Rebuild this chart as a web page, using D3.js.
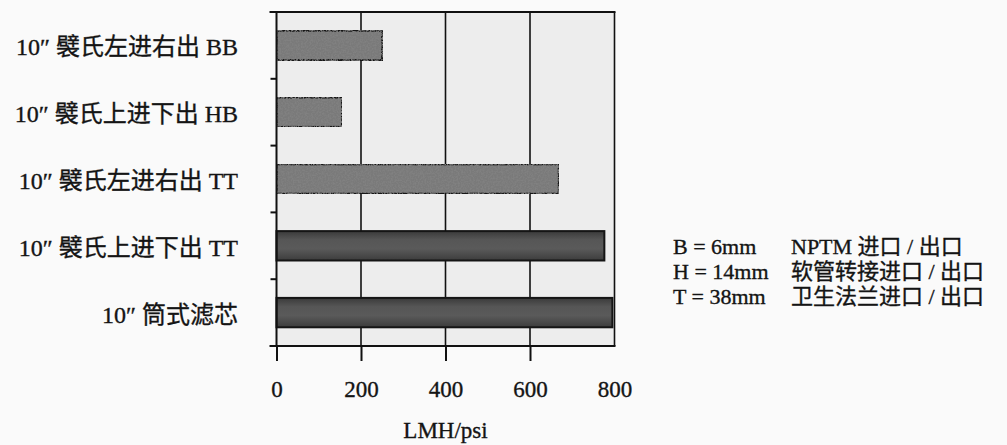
<!DOCTYPE html>
<html>
<head>
<meta charset="utf-8">
<script src="https://cdn.jsdelivr.net/npm/d3@7"></script>
<style>
  html, body { margin: 0; padding: 0; background: #fafafa; }
  svg { display: block; }
  text { font-family: "Liberation Serif", "Noto Sans CJK SC", serif; fill: #141414; stroke: #141414; stroke-width: 0.35px; }
</style>
</head>
<body>
<svg id="chart" width="1007" height="445"></svg>
<script>
// Filter permeability by housing / connection type
const categories = [
  "10″ 襞氏左进右出 BB",
  "10″ 襞氏上进下出 HB",
  "10″ 襞氏左进右出 TT",
  "10″ 襞氏上进下出 TT",
  "10″ 筒式滤芯"
];
const fluxValues = [250, 155, 668, 776, 795];
const xTicks = [0, 200, 400, 600, 800];
const xTitle = "LMH/psi";
const legendCodes = ["B = 6mm", "H = 14mm", "T = 38mm"];
const legendDescs = ["NPTM 进口 / 出口", "软管转接进口 / 出口", "卫生法兰进口 / 出口"];

const svg = d3.select("#chart");
const plot = { left: 276.5, right: 614.5, top: 12, bottom: 346 };

const x = d3.scaleLinear().domain([0, 800]).range([plot.left, plot.right]);
const y = d3.scaleBand()
  .domain(categories)
  .range([plot.top, plot.bottom])
  .paddingInner(0.56)
  .paddingOuter(0.28);

const defs = svg.append("defs");

// speckled grey fill for the housing bars
const grain = defs.append("filter").attr("id", "grain")
  .attr("x", 0).attr("y", 0).attr("width", "100%").attr("height", "100%");
grain.append("feTurbulence").attr("type", "fractalNoise")
  .attr("baseFrequency", 0.6).attr("numOctaves", 2).attr("seed", 7).attr("result", "noise");
grain.append("feColorMatrix").attr("in", "noise").attr("type", "matrix")
  .attr("values", "0 0 0 0 0.22  0 0 0 0 0.22  0 0 0 0 0.22  0 0 0 3.2 -1.3")
  .attr("result", "dots");
grain.append("feComposite").attr("in", "dots").attr("in2", "SourceGraphic")
  .attr("operator", "in").attr("result", "clipped");
const merge = grain.append("feMerge");
merge.append("feMergeNode").attr("in", "SourceGraphic");
merge.append("feMergeNode").attr("in", "clipped");

// darker shaded fill for the tee-connection and cartridge bars
const shade = defs.append("linearGradient").attr("id", "shade")
  .attr("x1", 0).attr("y1", 0).attr("x2", 0).attr("y2", 1);
[[0, "#3a3a3a"], [0.3, "#565656"], [0.6, "#5a5a5a"], [1, "#3c3c3c"]]
  .forEach(([o, c]) => shade.append("stop").attr("offset", o).attr("stop-color", c));

// plot background
svg.append("rect")
  .attr("x", plot.left).attr("y", plot.top)
  .attr("width", plot.right - plot.left).attr("height", plot.bottom - plot.top)
  .attr("fill", "#ededed");

// vertical grid lines
svg.append("g")
  .selectAll("line")
  .data(xTicks.filter(d => d > 0 && d < 800))
  .join("line")
  .attr("x1", d => x(d)).attr("x2", d => x(d))
  .attr("y1", plot.top).attr("y2", plot.bottom)
  .attr("stroke", "#111").attr("stroke-width", 1.6);

// bars
svg.append("g")
  .selectAll("rect")
  .data(categories.map((c, i) => ({ c, v: fluxValues[i], i })))
  .join("rect")
  .attr("x", x(0))
  .attr("y", d => y(d.c))
  .attr("width", d => x(d.v) - x(0))
  .attr("height", y.bandwidth())
  .attr("fill", d => d.i < 3 ? "#7a7a7a" : "url(#shade)")
  .attr("filter", d => d.i < 3 ? "url(#grain)" : null)
  .attr("stroke", "#151515")
  .attr("stroke-width", 2);

// right border
svg.append("line")
  .attr("x1", plot.right).attr("x2", plot.right)
  .attr("y1", plot.top).attr("y2", plot.bottom)
  .attr("stroke", "#111").attr("stroke-width", 1.6);

// left axis with ticks at band boundaries
const boundaries = d3.range(categories.length + 1).map(i => plot.top + i * y.step());
svg.append("line")
  .attr("x1", plot.left).attr("x2", plot.left)
  .attr("y1", plot.top).attr("y2", plot.bottom)
  .attr("stroke", "#111").attr("stroke-width", 2);
svg.append("g")
  .selectAll("line")
  .data(boundaries.slice(1, -1))
  .join("line")
  .attr("x1", plot.left - 6).attr("x2", plot.left)
  .attr("y1", d => d).attr("y2", d => d)
  .attr("stroke", "#111").attr("stroke-width", 2);

// top and bottom frame lines
svg.append("g")
  .selectAll("line")
  .data([plot.top, plot.bottom])
  .join("line")
  .attr("x1", plot.left - 7).attr("x2", plot.right + 1)
  .attr("y1", d => d).attr("y2", d => d)
  .attr("stroke", "#111").attr("stroke-width", 2);

// category labels
svg.append("g")
  .selectAll("text")
  .data(categories)
  .join("text")
  .attr("x", 238)
  .attr("y", d => y(d) + y.bandwidth() / 2 + 2)
  .attr("text-anchor", "end")
  .attr("dominant-baseline", "central")
  .attr("font-size", 24)
  .text(d => d);

// bottom axis
const xAxis = d3.axisBottom(x).tickValues(xTicks).tickSize(15).tickPadding(20).tickFormat(d3.format("d"));
const gx = svg.append("g").attr("transform", `translate(0,${plot.bottom})`).call(xAxis);
gx.select(".domain").remove();
gx.selectAll(".tick line").attr("stroke", "#111").attr("stroke-width", 2)
  .filter(d => d === 800).remove();
gx.selectAll(".tick text")
  .attr("font-size", 23)
  .attr("font-family", "Liberation Serif, serif")
  .attr("fill", "#141414");

// axis title
svg.append("text")
  .attr("x", (plot.left + plot.right) / 2)
  .attr("y", 430)
  .attr("text-anchor", "middle")
  .attr("dominant-baseline", "central")
  .attr("font-size", 23)
  .text(xTitle);

// connection legend
const legend = svg.append("g");
legendCodes.forEach((code, i) => {
  const yy = 246 + i * 25;
  legend.append("text").attr("x", 673).attr("y", yy)
    .attr("dominant-baseline", "central").attr("font-size", 22).text(code);
  legend.append("text").attr("x", 791).attr("y", yy)
    .attr("dominant-baseline", "central").attr("font-size", 22).text(legendDescs[i]);
});
</script>
</body>
</html>
